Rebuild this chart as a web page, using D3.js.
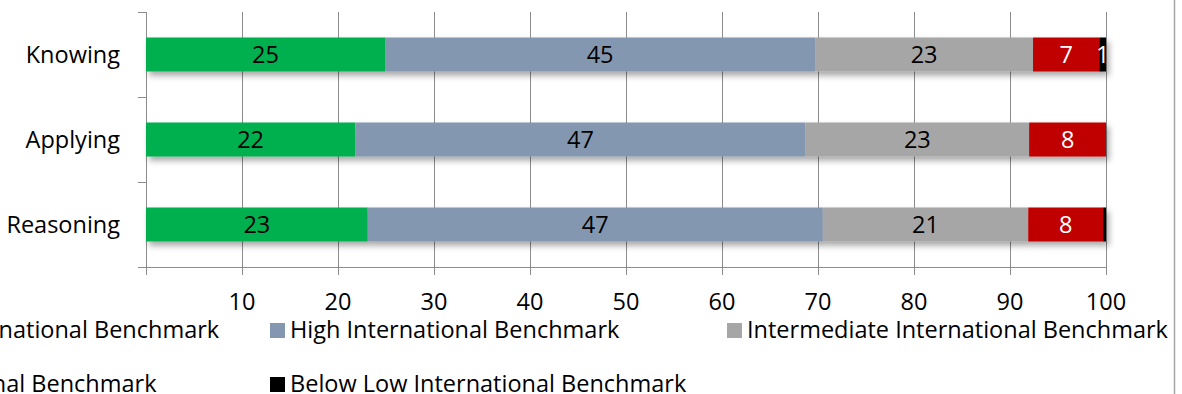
<!DOCTYPE html>
<html>
<head>
<meta charset="utf-8">
<script src="https://cdn.jsdelivr.net/npm/d3@7"></script>
<style>
  body { margin: 0; background: #fff; }
  svg text { font-family: "Open Sans", sans-serif; }
</style>
</head>
<body>
<div id="chart"></div>
<script>
// data (percent of students)
var categories = ["Knowing", "Applying", "Reasoning"];
var series = ["Advanced International Benchmark", "High International Benchmark",
  "Intermediate International Benchmark", "Low International Benchmark",
  "Below Low International Benchmark"];
var advanced = [24.9, 21.8, 23.1];
var high = [44.8, 46.9, 47.4];
var intermediate = [22.7, 23.3, 21.4];
var low = [6.9, 8.0, 7.8];
var belowLow = [0.7, 0.0, 0.3];
var xTicks = [10, 20, 30, 40, 50, 60, 70, 80, 90, 100];

var colors = ["#00b050", "#8497b0", "#a6a6a6", "#c00000", "#000000"];
var labelColors = ["#000", "#000", "#000", "#fff", "#fff"];
var fontSize = "23.5px";

var W = 1182, H = 394;
var margin = {top: 12, left: 146, right: 76, bottom: 127};
var width = W - margin.left - margin.right,
    height = H - margin.top - margin.bottom;

var rows = categories.map(function(c, i) {
  return {cat: c, s0: advanced[i], s1: high[i], s2: intermediate[i], s3: low[i], s4: belowLow[i]};
});
var keys = ["s0", "s1", "s2", "s3", "s4"];
var stacked = d3.stack().keys(keys)(rows);

var svg = d3.select("#chart").append("svg")
    .attr("width", W).attr("height", H);

var defs = svg.append("defs");
var f = defs.append("filter").attr("id", "shadow")
    .attr("x", "-5%").attr("y", "-30%").attr("width", "110%").attr("height", "180%");
f.append("feDropShadow").attr("dx", 3).attr("dy", 4).attr("stdDeviation", 3)
    .attr("flood-color", "#000").attr("flood-opacity", 0.35);

// right border of the chart frame
svg.append("line").attr("x1", 1174.5).attr("x2", 1174.5).attr("y1", 0).attr("y2", H)
    .attr("stroke", "#a6a6a6").attr("stroke-width", 1.5);

var g = svg.append("g").attr("transform", "translate(" + margin.left + "," + margin.top + ")");

var x = d3.scaleLinear().domain([0, 100]).range([0, width]);
var y = d3.scaleBand().domain(categories).range([0, height]).paddingInner(0.6).paddingOuter(0.3);

// gridlines
g.append("g").selectAll("line").data(xTicks).enter().append("line")
    .attr("x1", function(d) { return Math.round(x(d)) + 0.5; })
    .attr("x2", function(d) { return Math.round(x(d)) + 0.5; })
    .attr("y1", 0).attr("y2", height + 8)
    .attr("stroke", "#8c8c8c").attr("stroke-width", 1);

// y axis line with ticks between categories
var yEdges = [0, 1, 2, 3].map(function(i) { return i * height / 3; });
g.append("line").attr("x1", 0.5).attr("x2", 0.5).attr("y1", 0).attr("y2", height + 8)
    .attr("stroke", "#8c8c8c");
g.append("g").selectAll("line").data(yEdges).enter().append("line")
    .attr("x1", -8).attr("x2", 0.5)
    .attr("y1", function(d) { return Math.round(d) + 0.5; })
    .attr("y2", function(d) { return Math.round(d) + 0.5; })
    .attr("stroke", "#8c8c8c");

// x axis line
g.append("line").attr("x1", 0).attr("x2", width + 0.5)
    .attr("y1", height + 0.5).attr("y2", height + 0.5).attr("stroke", "#8c8c8c");

// bars
var barG = g.append("g").attr("filter", "url(#shadow)");
stacked.forEach(function(layer, k) {
  barG.selectAll(".b" + k).data(layer).enter().append("rect")
      .attr("x", function(d) { return x(d[0]); })
      .attr("y", function(d) { return y(d.data.cat); })
      .attr("width", function(d) { return x(d[1]) - x(d[0]); })
      .attr("height", y.bandwidth())
      .attr("fill", colors[k]);
});

// segment labels
stacked.forEach(function(layer, k) {
  g.selectAll(".l" + k).data(layer.filter(function(d) { return Math.round(d[1] - d[0]) > 0; }))
    .enter().append("text")
      .attr("x", function(d) { return x((d[0] + d[1]) / 2); })
      .attr("y", function(d) { return y(d.data.cat) + y.bandwidth() / 2; })
      .attr("dy", "0.36em")
      .attr("text-anchor", "middle")
      .attr("font-size", fontSize)
      .attr("fill", labelColors[k])
      .text(function(d) { return Math.round(d[1] - d[0]); });
});

// category labels
g.selectAll(".cat").data(categories).enter().append("text")
    .attr("x", -26)
    .attr("y", function(d) { return y(d) + y.bandwidth() / 2; })
    .attr("dy", "0.36em")
    .attr("text-anchor", "end")
    .attr("font-size", fontSize)
    .attr("fill", "#000")
    .text(function(d) { return d; });

// tick labels
g.selectAll(".tick").data(xTicks).enter().append("text")
    .attr("x", function(d) { return x(d); })
    .attr("y", height + 43)
    .attr("text-anchor", "middle")
    .attr("font-size", fontSize)
    .text(function(d) { return d; });

// legend (3 columns, wraps onto 2 rows, left column clipped by frame)
var colX = [-187, 270, 727];
var legend = svg.append("g").selectAll("g").data(series).enter().append("g")
    .attr("transform", function(d, i) {
      return "translate(" + colX[i % 3] + "," + (338 + Math.floor(i / 3) * 54) + ")";
    });
legend.append("rect").attr("x", 0).attr("y", -15).attr("width", 15).attr("height", 15)
    .attr("fill", function(d, i) { return colors[i]; });
legend.append("text").attr("x", 20).attr("y", 0)
    .attr("font-size", fontSize).text(function(d) { return d; });
</script>
</body>
</html>
